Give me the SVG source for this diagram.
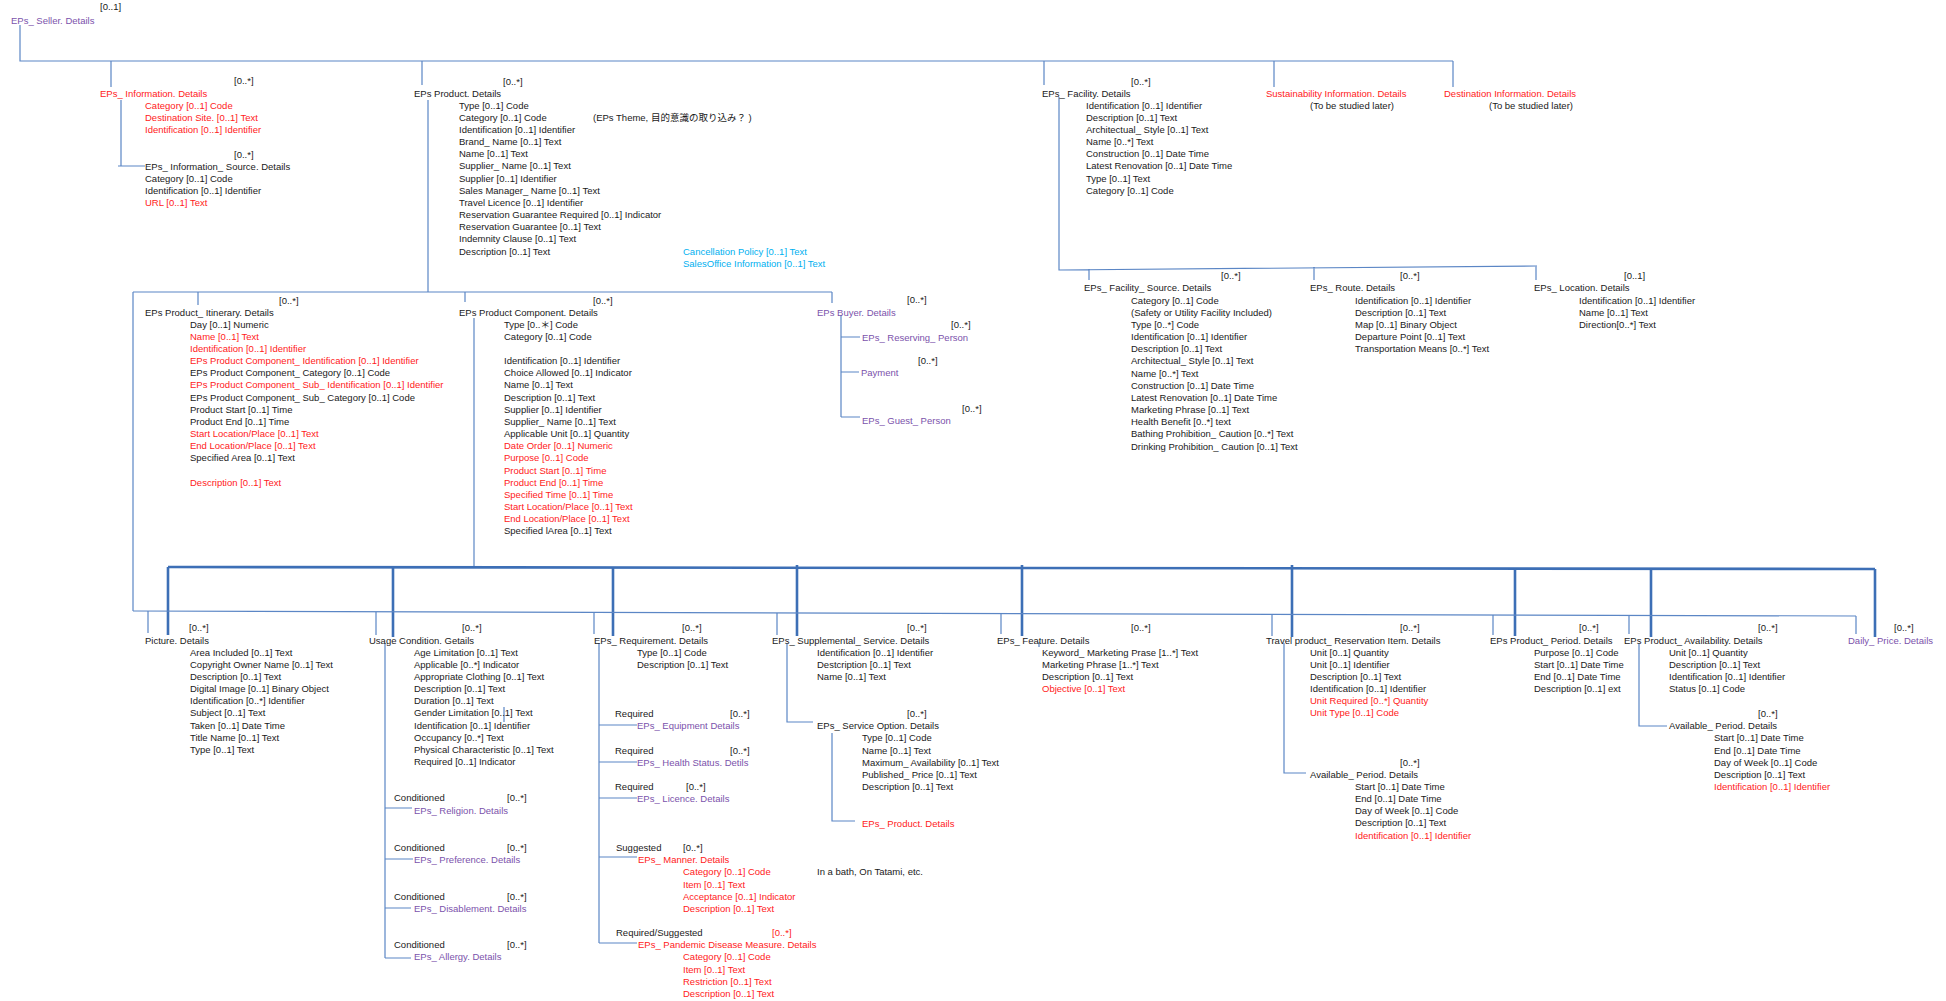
<svg xmlns="http://www.w3.org/2000/svg" width="1946" height="1001" viewBox="0 0 1946 1001">
<style>
text{font-family:"Liberation Sans","Noto Sans CJK JP",sans-serif;font-size:9.5px;fill:#1a1a1a}
.r{fill:#ff1a1a}
.p{fill:#7b52ab}
.b{fill:#00b0f0}
.c{stroke:#5b86c5;stroke-width:1.2;fill:none}
.k{stroke:#3d6fb6;stroke-width:2.6;fill:none}
</style>
<rect width="1946" height="1001" fill="#ffffff"/>
<g id="connectors">
<path class="c" d="M20 25V61H1453M111 61V87M422 61V85M1044 61V85M1274 61V87M1453 61V87"/>
<path class="c" d="M121 100V166M118 166H145"/>
<path class="c" d="M428 100V292M133 292H832M198 292V305M465 292V302M832 292V303M133 292V611"/>
<path class="c" d="M841 315V417M841 337H860M841 372H859M841 417H860"/>
<path class="c" d="M1059 97V270L1537 266M1089 269V280M1314 267V280M1536 266V280"/>
<path class="c" d="M474 318V567"/>
<path class="k" d="M168 567L1875 569"/>
<path class="k" d="M168 567V635M393 567V637M613 567V636M797 565V636M1022 565V636M1292 565V637M1515 568V636M1651 568V637M1875 569V637"/>
<path class="c" d="M133 611L1856 616"/>
<path class="c" d="M148 611V633M376 612V635M594 612V634M777 613V635M1001 613V634M1272 614V636M1493 615V635M1629 615V634M1856 616V634"/>
<path class="c" d="M385 643V958M385 808H412M385 859H413M385 908H411M385 958H411"/>
<path class="c" d="M504 707V722M1039 642V647"/>
<path class="c" d="M599 643V943M599 725H637M599 762H637M599 798H637M599 857H637M599 943H637"/>
<path class="c" d="M787 643V722H813M832 733V821H855"/>
<path class="c" d="M1284 643V773H1306M1639 643V726H1667"/>
</g>
<g id="seller"><text x="100" y="10">[0..1]</text><text class="p" x="11" y="23.5">EPs_ Seller. Details</text></g>
<g id="information">
<text x="234" y="83.5">[0..*]</text>
<text class="r" x="100" y="96.5">EPs_ Information. Details</text>
<text class="r" x="145" y="108.5">Category [0..1] Code</text>
<text class="r" x="145" y="120.5">Destination Site. [0..1] Text</text>
<text class="r" x="145" y="132.5">Identification  [0..1] Identifier</text>
</g>
<g id="information-source">
<text x="234" y="157.5">[0..*]</text>
<text x="145" y="169.5">EPs_ Information_ Source. Details</text>
<text x="145" y="181.5">Category [0..1] Code</text>
<text x="145" y="193.5">Identification  [0..1] Identifier</text>
<text class="r" x="145" y="205.5">URL [0..1] Text</text>
</g>
<g id="product">
<text x="503" y="84.5">[0..*]</text>
<text x="414" y="96.5">EPs Product. Details</text>
<text x="459" y="108.5">Type [0..1] Code</text>
<text x="459" y="120.7">Category [0..1] Code</text>
<text x="593" y="120.7">(EPs Theme, 目的意識の取り込み？ )</text>
<text x="459" y="132.8">Identification [0..1] Identifier</text>
<text x="459" y="145">Brand_ Name [0..1] Text</text>
<text x="459" y="157.2">Name [0..1] Text</text>
<text x="459" y="169.4">Supplier_ Name [0..1] Text</text>
<text x="459" y="181.5">Supplier [0..1] Identifier</text>
<text x="459" y="193.7">Sales Manager_ Name [0..1] Text</text>
<text x="459" y="205.9">Travel Licence [0..1] Identifier</text>
<text x="459" y="218">Reservation Guarantee Required [0..1] Indicator</text>
<text x="459" y="230.2">Reservation Guarantee [0..1] Text</text>
<text x="459" y="242.4">Indemnity Clause [0..1] Text</text>
<text x="459" y="254.5">Description [0..1] Text</text>
<text class="b" x="683" y="254.5">Cancellation Policy [0..1] Text</text>
<text class="b" x="683" y="266.7">SalesOffice Information [0..1] Text</text>
</g>
<g id="facility">
<text x="1131" y="84.5">[0..*]</text>
<text x="1042" y="96.5">EPs_ Facility. Details</text>
<text x="1086" y="108.5">Identification [0..1] Identifier</text>
<text x="1086" y="120.7">Description [0..1] Text</text>
<text x="1086" y="132.8">Architectual_ Style [0..1] Text</text>
<text x="1086" y="145">Name [0..*] Text</text>
<text x="1086" y="157.2">Construction [0..1] Date Time</text>
<text x="1086" y="169.4">Latest Renovation [0..1] Date Time</text>
<text x="1086" y="181.5">Type [0..1] Text</text>
<text x="1086" y="193.7">Category [0..1] Code</text>
</g>
<g id="sustainability"><text class="r" x="1266" y="96.5">Sustainability Information. Details</text><text x="1310" y="108.5">(To be studied later)</text></g>
<g id="destination"><text class="r" x="1444" y="96.5">Destination Information. Details</text><text x="1489" y="108.5">(To be studied later)</text></g>
<g id="facility-source">
<text x="1221" y="278.5">[0..*]</text>
<text x="1084" y="290.5">EPs_ Facility_ Source. Details</text>
<text x="1131" y="303.5">Category [0..1] Code</text>
<text x="1131" y="315.7">(Safety or Utility Facility Included)</text>
<text x="1131" y="327.8">Type [0..*] Code</text>
<text x="1131" y="340">Identification [0..1] Identifier</text>
<text x="1131" y="352.2">Description [0..1] Text</text>
<text x="1131" y="364.4">Architectual_ Style [0..1] Text</text>
<text x="1131" y="376.5">Name [0..*] Text</text>
<text x="1131" y="388.7">Construction [0..1] Date Time</text>
<text x="1131" y="400.9">Latest Renovation [0..1] Date Time</text>
<text x="1131" y="413">Marketing Phrase [0..1] Text</text>
<text x="1131" y="425.2">Health Benefit [0..*] text</text>
<text x="1131" y="437.4">Bathing Prohibition_ Caution [0..*] Text</text>
<text x="1131" y="449.5">Drinking Prohibition_ Caution [0..1] Text</text>
</g>
<g id="route">
<text x="1400" y="278.5">[0..*]</text>
<text x="1310" y="290.5">EPs_ Route. Details</text>
<text x="1355" y="303.5">Identification [0..1] Identifier</text>
<text x="1355" y="315.7">Description [0..1] Text</text>
<text x="1355" y="327.8">Map [0..1] Binary Object</text>
<text x="1355" y="340">Departure Point [0..1] Text</text>
<text x="1355" y="352.2">Transportation Means [0..*] Text</text>
</g>
<g id="location">
<text x="1624" y="278.5">[0..1]</text>
<text x="1534" y="290.5">EPs_ Location. Details</text>
<text x="1579" y="303.5">Identification [0..1] Identifier</text>
<text x="1579" y="315.7">Name [0..1] Text</text>
<text x="1579" y="327.8">Direction[0..*] Text</text>
</g>
<g id="itinerary">
<text x="279" y="303.5">[0..*]</text>
<text x="145" y="315.5">EPs Product_ Itinerary. Details</text>
<text x="190" y="327.5">Day [0..1] Numeric</text>
<text class="r" x="190" y="339.7">Name [0..1] Text</text>
<text class="r" x="190" y="351.8">Identification [0..1] Identifier</text>
<text class="r" x="190" y="364">EPs Product Component_ Identification [0..1] Identifier</text>
<text x="190" y="376.2">EPs Product Component_ Category [0..1] Code</text>
<text class="r" x="190" y="388.4">EPs Product Component_ Sub_ Identification [0..1] Identifier</text>
<text x="190" y="400.5">EPs Product Component_ Sub_ Category [0..1] Code</text>
<text x="190" y="412.7">Product Start [0..1] Time</text>
<text x="190" y="424.9">Product End [0..1] Time</text>
<text class="r" x="190" y="437">Start Location/Place [0..1] Text</text>
<text class="r" x="190" y="449.2">End Location/Place [0..1] Text</text>
<text x="190" y="461.4">Specified Area [0..1] Text</text>
<text class="r" x="190" y="485.7">Description [0..1] Text</text>
</g>
<g id="product-component">
<text x="593" y="303.5">[0..*]</text>
<text x="459" y="315.5">EPs Product Component. Details</text>
<text x="504" y="327.5">Type [0..＊] Code</text>
<text x="504" y="339.7">Category [0..1] Code</text>
<text x="504" y="364">Identification [0..1] Identifier</text>
<text x="504" y="376.2">Choice Allowed [0..1] Indicator</text>
<text x="504" y="388.4">Name [0..1] Text</text>
<text x="504" y="400.5">Description [0..1] Text</text>
<text x="504" y="412.7">Supplier [0..1] Identifier</text>
<text x="504" y="424.9">Supplier_ Name [0..1] Text</text>
<text x="504" y="437">Applicable Unit [0..1] Quantity</text>
<text class="r" x="504" y="449.2">Date Order [0..1] Numeric</text>
<text class="r" x="504" y="461.4">Purpose [0..1] Code</text>
<text class="r" x="504" y="473.5">Product Start [0..1] Time</text>
<text class="r" x="504" y="485.7">Product End [0..1] Time</text>
<text class="r" x="504" y="497.9">Specified Time [0..1] Time</text>
<text class="r" x="504" y="510">Start Location/Place [0..1] Text</text>
<text class="r" x="504" y="522.2">End Location/Place [0..1] Text</text>
<text x="504" y="534.4">Specified lArea [0..1] Text</text>
</g>
<g id="buyer">
<text x="907" y="302.5">[0..*]</text>
<text class="p" x="817" y="315.5">EPs Buyer. Details</text>
<text x="951" y="327.5">[0..*]</text>
<text class="p" x="862" y="340.5">EPs_ Reserving_ Person</text>
<text x="918" y="363.5">[0..*]</text>
<text class="p" x="861" y="375.5">Payment</text>
<text x="962" y="411.5">[0..*]</text>
<text class="p" x="862" y="423.5">EPs_ Guest_ Person</text>
</g>
<g id="picture">
<text x="189" y="630.5">[0..*]</text>
<text x="145" y="643.5">Picture. Details</text>
<text x="190" y="655.5">Area Included [0..1] Text</text>
<text x="190" y="667.7">Copyright Owner Name [0..1] Text</text>
<text x="190" y="679.8">Description [0..1] Text</text>
<text x="190" y="692">Digital Image [0..1] Binary Object</text>
<text x="190" y="704.2">Identification [0..*] Identifier</text>
<text x="190" y="716.4">Subject [0..1] Text</text>
<text x="190" y="728.5">Taken [0..1] Date Time</text>
<text x="190" y="740.7">Title Name [0..1] Text</text>
<text x="190" y="752.9">Type [0..1] Text</text>
</g>
<g id="usage-condition">
<text x="462" y="630.5">[0..*]</text>
<text x="369" y="643.5">Usage Condition. Getails</text>
<text x="414" y="655.5">Age Limitation [0..1] Text</text>
<text x="414" y="667.7">Applicable [0..*] Indicator</text>
<text x="414" y="679.8">Appropriate Clothing [0..1] Text</text>
<text x="414" y="692">Description [0..1] Text</text>
<text x="414" y="704.2">Duration [0..1] Text</text>
<text x="414" y="716.4">Gender Limitation [0..1] Text</text>
<text x="414" y="728.5">Identification [0..1] Identifier</text>
<text x="414" y="740.7">Occupancy [0..*] Text</text>
<text x="414" y="752.9">Physical Characteristic [0..1] Text</text>
<text x="414" y="765">Required [0..1] Indicator</text>
</g>
<g id="religion"><text x="394" y="800.5">Conditioned</text><text x="507" y="800.5">[0..*]</text><text class="p" x="414" y="813.5">EPs_ Religion. Details</text></g>
<g id="preference"><text x="394" y="850.5">Conditioned</text><text x="507" y="850.5">[0..*]</text><text class="p" x="414" y="862.5">EPs_ Preference. Details</text></g>
<g id="disablement"><text x="394" y="899.5">Conditioned</text><text x="507" y="899.5">[0..*]</text><text class="p" x="414" y="911.5">EPs_ Disablement. Details</text></g>
<g id="allergy"><text x="394" y="947.5">Conditioned</text><text x="507" y="947.5">[0..*]</text><text class="p" x="414" y="959.5">EPs_ Allergy. Details</text></g>
<g id="requirement">
<text x="682" y="630.5">[0..*]</text>
<text x="594" y="643.5">EPs_ Requirement. Details</text>
<text x="637" y="655.5">Type [0..1] Code</text>
<text x="637" y="667.7">Description [0..1] Text</text>
</g>
<g id="equipment"><text x="615" y="716.5">Required</text><text x="730" y="716.5">[0..*]</text><text class="p" x="637" y="728.5">EPs_ Equipment Details</text></g>
<g id="health-status"><text x="615" y="753.5">Required</text><text x="730" y="753.5">[0..*]</text><text class="p" x="637" y="765.5">EPs_ Health Status. Detils</text></g>
<g id="licence"><text x="615" y="789.5">Required</text><text x="686" y="789.5">[0..*]</text><text class="p" x="637" y="801.5">EPs_ Licence. Details</text></g>
<g id="manner">
<text x="616" y="850.5">Suggested</text><text x="683" y="850.5">[0..*]</text>
<text class="r" x="638" y="862.5">EPs_ Manner. Details</text>
<text class="r" x="683" y="874.5">Category [0..1] Code</text>
<text x="817" y="874.5">In a bath, On Tatami, etc.</text>
<text class="r" x="683" y="887.5">Item [0..1] Text</text>
<text class="r" x="683" y="899.5">Acceptance [0..1] Indicator</text>
<text class="r" x="683" y="911.5">Description [0..1] Text</text>
</g>
<g id="pandemic">
<text x="616" y="935.5">Required/Suggested</text><text class="r" x="772" y="935.5">[0..*]</text>
<text class="r" x="638" y="947.5">EPs_ Pandemic Disease Measure. Details</text>
<text class="r" x="683" y="959.5">Category [0..1] Code</text>
<text class="r" x="683" y="972.5">Item [0..1] Text</text>
<text class="r" x="683" y="984.5">Restriction [0..1] Text</text>
<text class="r" x="683" y="996.5">Description [0..1] Text</text>
</g>
<g id="supplemental-service">
<text x="907" y="630.5">[0..*]</text>
<text x="772" y="643.5">EPs_ Supplemental_ Service. Details</text>
<text x="817" y="655.5">Identification [0..1] Identifier</text>
<text x="817" y="667.7">Destcription [0..1] Text</text>
<text x="817" y="680">Name [0..1] Text</text>
</g>
<g id="service-option">
<text x="907" y="716.5">[0..*]</text>
<text x="817" y="728.5">EPs_ Service Option. Details</text>
<text x="862" y="740.5">Type [0..1] Code</text>
<text x="862" y="753.5">Name [0..1] Text</text>
<text x="862" y="765.5">Maximum_ Availability [0..1] Text</text>
<text x="862" y="777.5">Published_ Price [0..1] Text</text>
<text x="862" y="789.5">Description [0..1] Text</text>
</g>
<g id="so-product"><text class="r" x="862" y="826.5">EPs_ Product. Details</text></g>
<g id="feature">
<text x="1131" y="630.5">[0..*]</text>
<text x="997" y="643.5">EPs_ Feature. Details</text>
<text x="1042" y="655.5">Keyword_ Marketing Prase [1..*] Text</text>
<text x="1042" y="667.7">Marketing Phrase [1..*] Text</text>
<text x="1042" y="680">Description [0..1] Text</text>
<text class="r" x="1042" y="692">Objective [0..1] Text</text>
</g>
<g id="reservation-item">
<text x="1400" y="630.5">[0..*]</text>
<text x="1266" y="643.5">Travel product_ Reservation Item. Details</text>
<text x="1310" y="655.5">Unit [0..1] Quantity</text>
<text x="1310" y="667.7">Unit [0..1] Identifier</text>
<text x="1310" y="680">Description [0..1] Text</text>
<text x="1310" y="692">Identification [0..1] Identifier</text>
<text class="r" x="1310" y="704.2">Unit Required [0..*] Quantity</text>
<text class="r" x="1310" y="716.4">Unit Type [0..1] Code</text>
</g>
<g id="ri-available-period">
<text x="1400" y="765.5">[0..*]</text>
<text x="1310" y="777.5">Available_ Period. Details</text>
<text x="1355" y="789.5">Start [0..1] Date Time</text>
<text x="1355" y="801.5">End [0..1] Date Time</text>
<text x="1355" y="813.5">Day of Week [0..1] Code</text>
<text x="1355" y="826">Description [0..1] Text</text>
<text class="r" x="1355" y="838.5">Identification [0..1] Identifier</text>
</g>
<g id="product-period">
<text x="1579" y="630.5">[0..*]</text>
<text x="1490" y="643.5">EPs Product_ Period. Details</text>
<text x="1534" y="655.5">Purpose [0..1] Code</text>
<text x="1534" y="667.7">Start [0..1] Date Time</text>
<text x="1534" y="680">End [0..1] Date Time</text>
<text x="1534" y="692">Description [0..1] ext</text>
</g>
<g id="product-availability">
<text x="1758" y="630.5">[0..*]</text>
<text x="1624" y="643.5">EPs Product_ Availability. Details</text>
<text x="1669" y="655.5">Unit [0..1] Quantity</text>
<text x="1669" y="667.7">Description [0..1] Text</text>
<text x="1669" y="680">Identification [0..1] Identifier</text>
<text x="1669" y="692">Status [0..1] Code</text>
</g>
<g id="pa-available-period">
<text x="1758" y="716.5">[0..*]</text>
<text x="1669" y="728.5">Available_ Period. Details</text>
<text x="1714" y="740.5">Start [0..1] Date Time</text>
<text x="1714" y="753.5">End [0..1] Date Time</text>
<text x="1714" y="765.5">Day of Week [0..1] Code</text>
<text x="1714" y="777.5">Description [0..1] Text</text>
<text class="r" x="1714" y="789.5">Identification [0..1] Identifier</text>
</g>
<g id="daily-price"><text x="1894" y="630.5">[0..*]</text><text class="p" x="1848" y="643.5">Daily_ Price. Details</text></g>
</svg>
